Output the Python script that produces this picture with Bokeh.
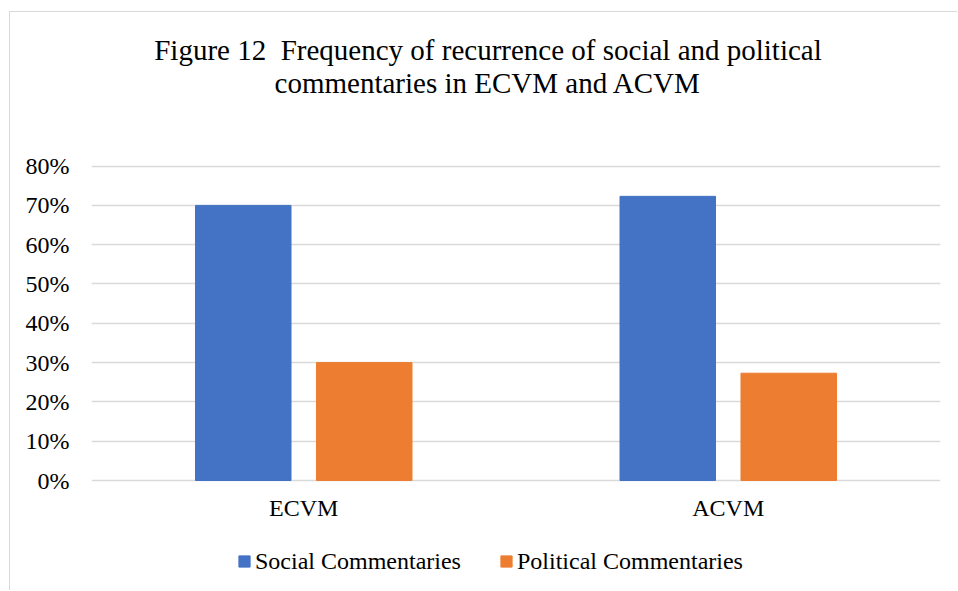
from bokeh.plotting import figure
from bokeh.models import (FactorRange, Range1d, FixedTicker, NumeralTickFormatter, Legend,
                          LegendItem, ColumnDataSource, Label)
from bokeh.core.properties import value
from bokeh.transform import dodge
from bokeh.embed import file_html
from bokeh.resources import INLINE

categories = ["ECVM", "ACVM"]
social = [0.70, 0.723]
political = [0.30, 0.273]
series_names = ["Social Commentaries", "Political Commentaries"]
colors = ["#4472C4", "#ED7D31"]
y_ticks = [0, 0.1, 0.2, 0.3, 0.4, 0.5, 0.6, 0.7, 0.8]
title_lines = ["Figure 12\u00a0\u00a0Frequency of recurrence of social and political",
               "commentaries in ECVM and ACVM"]

FONT = "Liberation Serif"
GRID = "#d9d9d9"

# layout constants (frame data units / screen pixels)
Y_MIN, Y_MAX = -0.2824, 1.1908
XLAB_Y = -0.0687

src = ColumnDataSource(data=dict(cat=categories, social=social, political=political,
                                 lab_y=[XLAB_Y] * len(categories)))

p = figure(
    x_range=FactorRange(*categories, range_padding=0),
    y_range=Range1d(Y_MIN, Y_MAX),
    width=948, height=579,
    output_backend="svg", toolbar_location=None,
    x_axis_location=None,
    min_border_left=81, min_border_right=18, min_border_top=0, min_border_bottom=0,
)
p.margin = (11, 0, 0, 9)
p.styles = {"border-top": "1px solid #d9d9d9", "border-left": "1px solid #d9d9d9"}
p.outline_line_color = None

r1 = p.vbar(x=dodge("cat", -0.1425, range=p.x_range), top="social", width=0.225, source=src,
            fill_color=colors[0], line_color=colors[0])
r2 = p.vbar(x=dodge("cat", 0.1425, range=p.x_range), top="political", width=0.225, source=src,
            fill_color=colors[1], line_color=colors[1])

# category labels
p.text(x="cat", y="lab_y", text="cat", source=src, text_align="center",
       text_baseline="alphabetic", text_font=value(FONT), text_font_size="24px",
       text_color="#000000")

p.xgrid.grid_line_color = None
p.ygrid.grid_line_color = GRID
p.ygrid.grid_line_width = 1.5
p.yaxis.ticker = FixedTicker(ticks=y_ticks)
p.yaxis.formatter = NumeralTickFormatter(format="0%")
p.yaxis.axis_line_color = None
p.yaxis.major_tick_line_color = None
p.yaxis.minor_tick_line_color = None
p.yaxis.major_label_text_font = FONT
p.yaxis.major_label_text_font_size = "24px"
p.yaxis.major_label_text_color = "#000000"
p.yaxis.major_label_standoff = 16

# title as two centred lines
for line, sy in zip(title_lines, [542, 508.5]):
    p.add_layout(Label(x=396.5, y=sy, x_units="screen", y_units="screen", text=line,
                       text_align="center", text_baseline="alphabetic", text_font=FONT,
                       text_font_size="29px", text_color="#000000"))

legend = Legend(items=[LegendItem(label=series_names[0], renderers=[r1]),
                       LegendItem(label=series_names[1], renderers=[r2])],
                orientation="horizontal", location=(146, 16.5))
legend.label_text_font = FONT
legend.label_text_font_size = "24px"
legend.label_text_color = "#000000"
legend.glyph_width = 14
legend.glyph_height = 14
legend.spacing = 38
legend.label_standoff = 4
legend.border_line_color = None
legend.background_fill_alpha = 0
legend.margin = 0
legend.padding = 0
p.add_layout(legend, "center")

open("out.html", "w").write(file_html(p, INLINE))
